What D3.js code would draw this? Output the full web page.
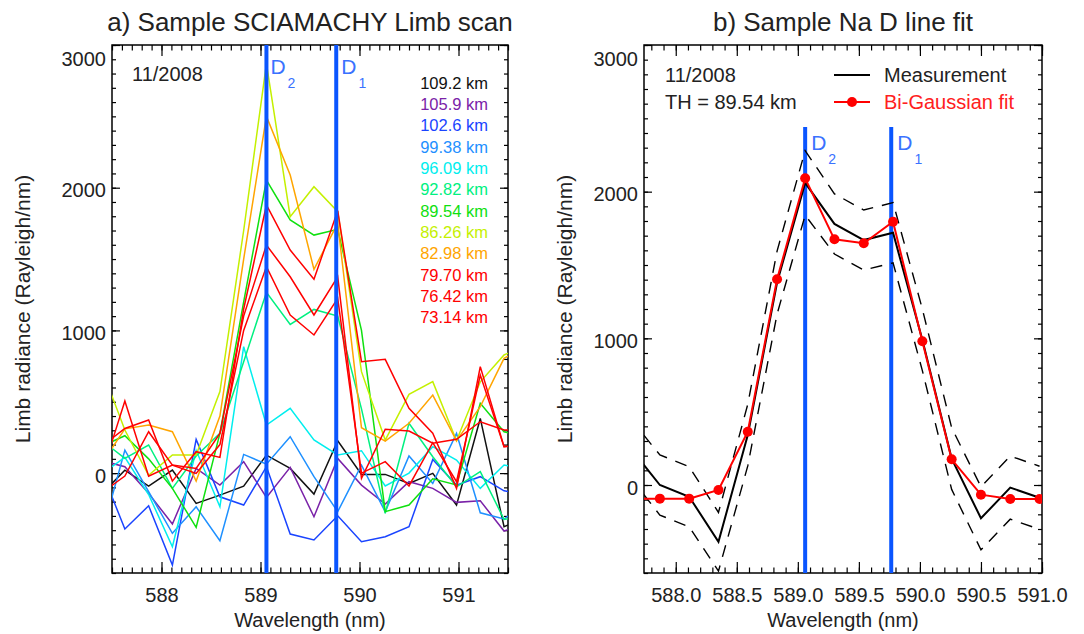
<!DOCTYPE html>
<html><head><meta charset="utf-8">
<script src="https://cdn.jsdelivr.net/npm/d3@7"></script>
<style>
body{margin:0;background:#fff;}
svg text{font-family:"Liberation Sans",Arial,Helvetica,sans-serif;}
</style></head><body>
<svg id="c" width="1084" height="634"></svg>
<script>
// ---------------- DATA ----------------
const wavelengths = [587.39, 587.63, 587.87, 588.11, 588.35, 588.59, 588.83, 589.06, 589.30, 589.54, 589.78, 590.02, 590.26, 590.50, 590.74, 590.98, 591.22, 591.46, 591.70];

const altitudes = ["109.2 km", "105.9 km", "102.6 km", "99.38 km", "96.09 km", "92.82 km", "89.54 km", "86.26 km", "82.98 km", "79.70 km", "76.42 km", "73.14 km"];
const altColors = ["#111111", "#7a22a8", "#1a44ff", "#1e90ff", "#00eeee", "#00f080", "#10e010", "#c4f000", "#ffa500", "#ff0000", "#ff0000", "#ff0000"];

const limb109_2 = [-150, 21, -91, 21, -212, -154, -91, 126, 33, -147, 227, -9, -9, -72, -2, -224, 383, -376, -300];
const limb105_9 = [88, 45, -142, -357, 33, -84, 80, -170, 40, -306, 103, -84, -217, -60, -107, -205, -194, -406, -350];
const limb102_6 = [25, -392, -229, -645, 236, -166, -224, 45, -427, -469, -299, -481, -446, -376, 96, -84, -25, -124, -150];
const limb99_38 = [-443, 161, -130, -422, -236, -474, 131, 63, 255, -25, -270, 56, -271, 120, -72, 278, -278, -322, -200];
const limb96_09 = [-10, 110, -150, -516, 160, -236, 886, 337, 454, 232, 127, 157, -90, 0, 185, 92, -107, 57, 20];
const limb92_82 = [233, 103, 197, -107, 120, 279, 780, 1267, 1042, 1147, 1101, 450, -282, 349, 115, -96, 10, -324, -300];
const limb89_54 = [185, 262, 100, -107, -380, 278, 1200, 2054, 1774, 1668, 1708, 1000, -270, -224, -40, -83, 489, 290, 250];
const limb86_26 = [742, 302, -15, 127, 127, 571, 1700, 2870, 1797, 2007, 1832, 711, 232, 552, 641, 226, 640, 828, 900];
const limb82_98 = [60, 310, 337, 290, -55, 400, 1500, 2500, 2089, 1428, 1750, 318, 224, 349, 547, 226, 466, 804, 900];
const limb79_70 = [184, 313, 372, -56, 150, 110, 1150, 1879, 1563, 1358, 1839, 781, 797, 454, 279, -107, 746, 185, 200];
const limb76_42 = [-20, 505, -21, 56, 33, 278, 1100, 1598, 1376, 1108, 1376, -37, 307, 295, 209, 237, 360, 302, 300];
const limb73_14 = [-140, -21, 290, 56, -2, 200, 1000, 1447, 1108, 968, 1225, 0, 80, -90, 213, -60, 687, 185, 200];

// panel b (wavelengths 587.63 ... 590.98)
const fitWavelengths = [587.63, 587.87, 588.11, 588.35, 588.59, 588.83, 589.06, 589.30, 589.54, 589.78, 590.02, 590.26, 590.50, 590.74, 590.98];
const measurement = [250, 0, -80, -387, 340, 1380, 2060, 1780, 1670, 1720, 990, 180, -227, -18, -87];
const measError = [200, 205, 205, 200, 210, 215, 220, 205, 205, 205, 210, 210, 215, 215, 215];
const biGaussFit = [-93, -93, -93, -34, 363, 1403, 2091, 1675, 1648, 1795, 980, 175, -66, -95, -95];

const lineD2 = 589.06, lineD1 = 589.765;
const yTicks = [0, 1000, 2000, 3000];
const xTicksA = [588, 589, 590, 591];
const xTicksB = [588.0, 588.5, 589.0, 589.5, 590.0, 590.5, 591.0];

// ---------------- DRAW ----------------
(function () {
const svg = d3.select("#c");
const pTop = 45, pBottom = 573;
const blue = "#0a55ff", blueText = "#3a72ff", ink = "#222";

function drawFrame(id, x, y, xMajor, xMinor, yMinor, fmt, yTitleOffset) {
  const g = svg.append("g");
  const x0 = x.range()[0], x1 = x.range()[1];
  const clean = s => { s.select(".domain").remove(); s.selectAll("text").attr("fill", ink).style("font-size", "20px"); s.selectAll("line").attr("stroke", "#000").attr("stroke-width", 1.2); };
  g.append("g").attr("transform", `translate(0,${pBottom})`).call(d3.axisBottom(x).tickValues(xMajor).tickSize(-11).tickPadding(15).tickFormat(fmt)).call(clean);
  g.append("g").attr("transform", `translate(0,${pBottom})`).call(d3.axisBottom(x).tickValues(xMinor).tickSize(-5.5).tickFormat("")).call(clean);
  g.append("g").attr("transform", `translate(0,${pTop})`).call(d3.axisTop(x).tickValues(xMajor).tickSize(-11).tickFormat("")).call(clean);
  g.append("g").attr("transform", `translate(0,${pTop})`).call(d3.axisTop(x).tickValues(xMinor).tickSize(-5.5).tickFormat("")).call(clean);
  const la = g.append("g").attr("transform", `translate(${x0},0)`).call(d3.axisLeft(y).tickValues(yTicks).tickSize(-8).tickPadding(6).tickFormat(d3.format("d"))).call(clean);
  la.selectAll("text").attr("dy", "0.45em").filter(d => d === 3000).attr("dy", "1.0em");
  g.append("g").attr("transform", `translate(${x0},0)`).call(d3.axisLeft(y).tickValues(yMinor).tickSize(-4).tickFormat("")).call(clean);
  g.append("g").attr("transform", `translate(${x1},0)`).call(d3.axisRight(y).tickValues(yTicks).tickSize(-8).tickFormat("")).call(clean);
  g.append("g").attr("transform", `translate(${x1},0)`).call(d3.axisRight(y).tickValues(yMinor).tickSize(-4).tickFormat("")).call(clean);
  g.append("rect").attr("x", x0).attr("y", pTop).attr("width", x1 - x0).attr("height", pBottom - pTop)
    .attr("fill", "none").attr("stroke", "#000").attr("stroke-width", 1.5);
  svg.append("clipPath").attr("id", id).append("rect").attr("x", x0).attr("y", pTop).attr("width", x1 - x0).attr("height", pBottom - pTop);
  svg.append("text").attr("x", (x0 + x1) / 2).attr("y", 627).attr("text-anchor", "middle").attr("fill", ink).style("font-size", "20px").text("Wavelength (nm)");
  svg.append("text").attr("transform", `translate(${x0 - yTitleOffset},${(pTop + pBottom) / 2}) rotate(-90)`).attr("text-anchor", "middle").attr("fill", ink).style("font-size", "21px").text("Limb radiance (Rayleigh/nm)");
  return g;
}
function rng(a, b, s) { const out = []; for (let v = a; v <= b + 1e-9; v += s) out.push(Math.round(v * 100) / 100); return out; }

function dLabel(g, xpos, yBase, sub) {
  const t = g.append("text").attr("x", xpos).attr("y", yBase).attr("fill", blueText).style("font-size", "21px");
  t.append("tspan").text("D");
  t.append("tspan").attr("dx", 2).attr("dy", 14).style("font-size", "14px").text(sub);
}

// ---- Panel a ----
const xa = d3.scaleLinear().domain([587.5, 591.5]).range([112, 508]);
const ya = d3.scaleLinear().domain([-700, 3000]).range([pBottom, pTop]);
const limbSeries = [limb109_2, limb105_9, limb102_6, limb99_38, limb96_09, limb92_82, limb89_54, limb86_26, limb82_98, limb79_70, limb76_42, limb73_14];

svg.append("text").attr("x", 310).attr("y", 31).attr("text-anchor", "middle").attr("fill", ink).style("font-size", "26px").text("a) Sample SCIAMACHY Limb scan");
drawFrame("clipA", xa, ya, xTicksA, rng(587.5, 591.5, 0.1), rng(-700, 3000, 100), d3.format("d"), 82);

const ga = svg.append("g").attr("clip-path", "url(#clipA)");
const lineA = d3.line().x((d, i) => xa(wavelengths[i])).y(d => ya(d));
limbSeries.forEach((s, k) => {
  ga.append("path").attr("d", lineA(s)).attr("fill", "none").attr("stroke", altColors[k]).attr("stroke-width", 1.5);
});
[lineD2, lineD1].forEach(w => ga.append("line").attr("x1", xa(w)).attr("x2", xa(w)).attr("y1", pTop).attr("y2", pBottom).attr("stroke", blue).attr("stroke-width", 4));
dLabel(svg, xa(lineD2) + 4, 74, "2");
dLabel(svg, xa(lineD1) + 5, 74, "1");
svg.append("text").attr("x", 132).attr("y", 81).attr("fill", ink).style("font-size", "20px").text("11/2008");
altitudes.forEach((a, k) => {
  svg.append("text").attr("x", 488).attr("y", 88.5 + k * 21.35).attr("text-anchor", "end").attr("fill", altColors[k]).style("font-size", "16.5px").text(a);
});

// ---- Panel b ----
const xb = d3.scaleLinear().domain([587.74, 591.0]).range([644, 1042]);
const yb = d3.scaleLinear().domain([-600, 3000]).range([pBottom, pTop]);
svg.append("text").attr("x", 843).attr("y", 31).attr("text-anchor", "middle").attr("fill", ink).style("font-size", "26px").text("b) Sample Na D line fit");
drawFrame("clipB", xb, yb, xTicksB, rng(587.8, 591.0, 0.1), rng(-600, 3000, 100), d3.format(".1f"), 72);

const gb = svg.append("g").attr("clip-path", "url(#clipB)");
[lineD2, lineD1].forEach(w => gb.append("line").attr("x1", xb(w)).attr("x2", xb(w)).attr("y1", 127).attr("y2", pBottom).attr("stroke", blue).attr("stroke-width", 4));
dLabel(svg, xb(lineD2) + 6, 150, "2");
dLabel(svg, xb(lineD1) + 6, 150, "1");
const lineB = d3.line().x((d, i) => xb(fitWavelengths[i])).y(d => yb(d));
gb.append("path").attr("d", lineB(measurement.map((m, i) => m + measError[i]))).attr("fill", "none").attr("stroke", "#000").attr("stroke-width", 1.4).attr("stroke-dasharray", "12,9");
gb.append("path").attr("d", lineB(measurement.map((m, i) => m - measError[i]))).attr("fill", "none").attr("stroke", "#000").attr("stroke-width", 1.4).attr("stroke-dasharray", "12,9");
gb.append("path").attr("d", lineB(measurement)).attr("fill", "none").attr("stroke", "#000").attr("stroke-width", 2);
gb.append("path").attr("d", lineB(biGaussFit)).attr("fill", "none").attr("stroke", "#ff0000").attr("stroke-width", 2);
gb.selectAll("circle.fit").data(biGaussFit).enter().append("circle").attr("class", "fit")
  .attr("cx", (d, i) => xb(fitWavelengths[i])).attr("cy", d => yb(d)).attr("r", 5).attr("fill", "#ff0000");

svg.append("text").attr("x", 665).attr("y", 82).attr("fill", ink).style("font-size", "20px").text("11/2008");
svg.append("text").attr("x", 665).attr("y", 109).attr("fill", ink).style("font-size", "20px").text("TH = 89.54 km");
svg.append("line").attr("x1", 834).attr("x2", 870).attr("y1", 75).attr("y2", 75).attr("stroke", "#000").attr("stroke-width", 2);
svg.append("text").attr("x", 884).attr("y", 82).attr("fill", ink).style("font-size", "20px").text("Measurement");
svg.append("line").attr("x1", 834).attr("x2", 870).attr("y1", 102).attr("y2", 102).attr("stroke", "#ff0000").attr("stroke-width", 2);
svg.append("circle").attr("cx", 852).attr("cy", 102).attr("r", 5).attr("fill", "#ff0000");
svg.append("text").attr("x", 884).attr("y", 109).attr("fill", "#ff2020").style("font-size", "20px").text("Bi-Gaussian fit");
})();
</script>
</body></html>
